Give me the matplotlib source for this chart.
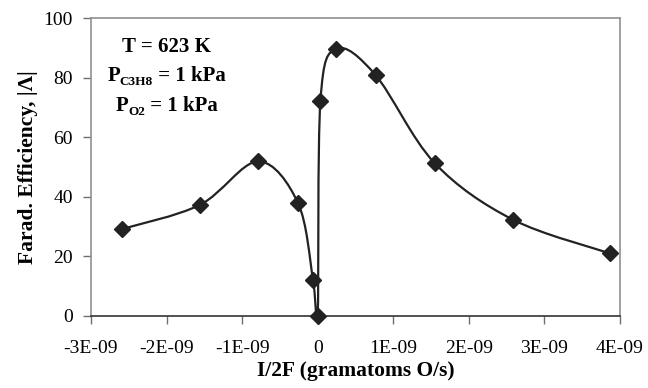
import matplotlib
matplotlib.use("Agg")
import matplotlib.pyplot as plt
from matplotlib.path import Path
from matplotlib.patches import PathPatch
from matplotlib.transforms import IdentityTransform
import numpy as np

# Data
current = [-2.59e-9, -1.56e-9, -0.79e-9, -0.26e-9, -0.062e-9, 0.0, 0.036e-9,
           0.247e-9, 0.766e-9, 1.546e-9, 2.58e-9, 3.87e-9]
efficiency = [29.2, 37.3, 51.9, 37.9, 12.2, 0.0, 72.2, 89.8, 80.9, 51.4, 32.4, 21.0]

xticks = [-3e-9, -2e-9, -1e-9, 0, 1e-9, 2e-9, 3e-9, 4e-9]
xticklabels = ["-3E-09", "-2E-09", "-1E-09", "0", "1E-09", "2E-09", "3E-09", "4E-09"]
yticks = [0, 20, 40, 60, 80, 100]

plt.rcParams['font.family'] = ['Liberation Serif', 'DejaVu Serif']

fig = plt.figure(figsize=(6.48, 3.88), dpi=100)
ax = fig.add_axes([0.1404, 0.1856, 0.8164, 0.7672])

xlim = (-3e-9, 4e-9)
ylim = (0, 100)
ax.set_xlim(*xlim)
ax.set_ylim(*ylim)

# Excel-style smoothed line (Bezier through the points), computed in normalized coords
x = np.array(current)
y = np.array(efficiency)
xn = (x - xlim[0]) / (xlim[1] - xlim[0]) * 530
yn = (y - ylim[0]) / (ylim[1] - ylim[0]) * 298
P = np.column_stack([xn, yn])
n = len(P)
verts = [P[0]]
codes = [Path.MOVETO]
for i in range(n - 1):
    p0 = P[i - 1] if i > 0 else P[i]
    p1 = P[i]
    p2 = P[i + 1]
    p3 = P[i + 2] if i + 2 < n else P[i + 1]
    c1 = p1 + (p2 - p0) / 6.0
    c2 = p2 - (p3 - p1) / 6.0
    verts += [c1, c2, p2]
    codes += [Path.CURVE4] * 3
verts = np.array(verts)
vx = verts[:, 0] / 530 * (xlim[1] - xlim[0]) + xlim[0]
vy = verts[:, 1] / 298 * (ylim[1] - ylim[0]) + ylim[0]
path = Path(np.column_stack([vx, vy]), codes)
ax.add_patch(PathPatch(path, facecolor='none', edgecolor='#222222', lw=1.6, zorder=3))

ax.plot(current, efficiency, linestyle='none', marker='D', markersize=8.5,
        color='#222222', zorder=4, clip_on=False)

ax.set_xticks(xticks)
ax.set_xticklabels(xticklabels)
ax.set_yticks(yticks)
ax.tick_params(axis='both', direction='out', length=6, width=1, color='#707070',
               labelsize=14, pad=7)
ax.tick_params(axis='x', pad=11)

for s in ['top', 'right', 'left']:
    ax.spines[s].set_color('#909090')
    ax.spines[s].set_linewidth(1.2)
ax.spines['bottom'].set_color('#333333')
ax.spines['bottom'].set_linewidth(1.2)

ax.set_xlabel("I/2F (gramatoms O/s)", fontsize=15.5, fontweight='bold', labelpad=3)
ax.set_ylabel("Farad. Efficiency, |Λ|", fontsize=15.5, fontweight='bold', labelpad=4)

# Annotation block: main text with small subscripts, each line centred
H = 388
cx = 166.5
lines = [("T = 623 K", None, None, 52.5),
         ("P", "C3H8", " = 1 kPa", 81.0),
         ("P", "O2", " = 1 kPa", 111.0)]
main_fs = 15
sub_fs = 9.5
fig.canvas.draw()
renderer = fig.canvas.get_renderer()
for main, sub, rest, base in lines:
    parts = [(main, main_fs, 0)]
    if sub is not None:
        parts.append((sub, sub_fs, -4))
        parts.append((rest, main_fs, 0))
    arts = []
    widths = []
    for txt, fs, dy in parts:
        t = fig.text(0, 0, txt, fontsize=fs, fontweight='bold', ha='left',
                     va='baseline', transform=IdentityTransform())
        w = t.get_window_extent(renderer).width
        arts.append((t, dy))
        widths.append(w)
    total = sum(widths)
    xpos = cx - total / 2
    for (t, dy), w in zip(arts, widths):
        t.set_position((xpos, H - base + dy))
        xpos += w

fig.savefig("out.png", dpi=100)
